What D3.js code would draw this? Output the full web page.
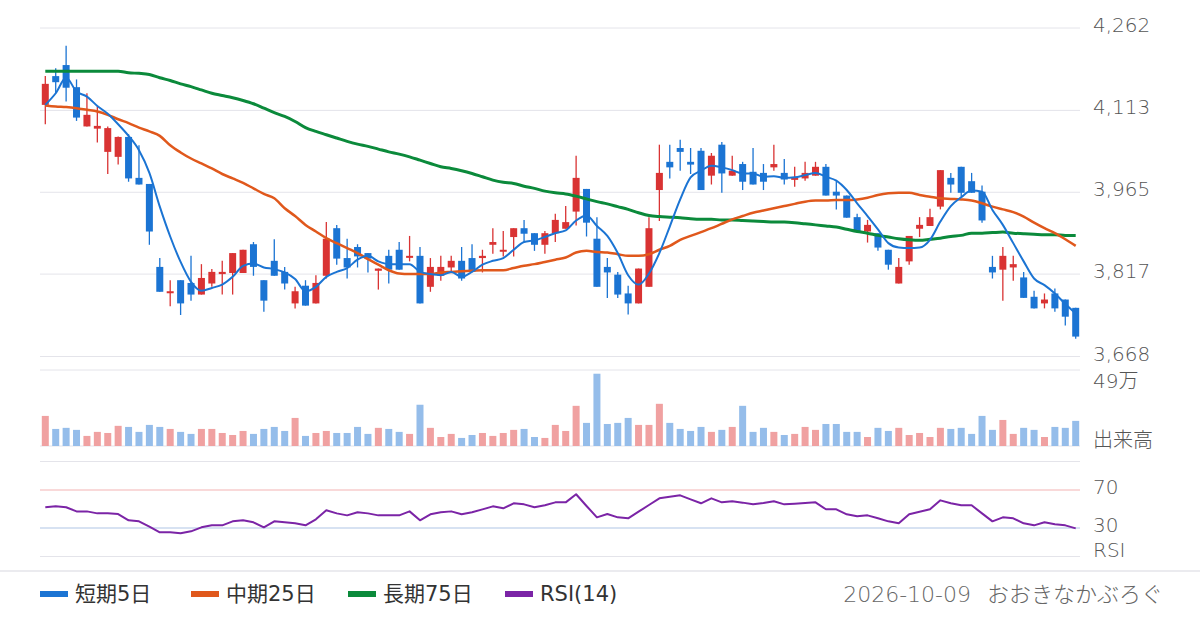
<!DOCTYPE html>
<html>
<head>
<meta charset="utf-8">
<script src="https://cdn.jsdelivr.net/npm/d3@7"></script>
<style>
  body { margin: 0; background: #fff; }
  svg { display: block; font-family: "DejaVu Sans", "Noto Sans CJK JP", sans-serif; font-weight: 300; }
</style>
</head>
<body>
<svg id="chart" width="1200" height="630"></svg>
<script>
// daily candles, oldest first (yen)
const opens = [4123,4175,4195,4155,4084,4080,4038,4029,4065,3991,3980,3830,3783,3806,3801,3780,3800,3817,3819,3819,
  3871,3806,3841,3821,3764,3796,3764,3814,3900,3846,3866,3855,3823,3850,3861,3847,3850,3794,3814,3829,
  3841,3846,3846,3870,3858,3884,3900,3891,3870,3891,3899,3930,3971,3881,3830,3816,3782,3764,3794,3969,
  4020,4045,4020,4040,3995,4051,3995,4016,4002,4000,4010,4000,3988,3990,3995,4011,3966,3959,3920,3894,
  3891,3861,3800,3840,3899,3904,3939,3991,4011,3985,3966,3830,3825,3829,3811,3776,3764,3782,3771,3756];
const highs = [4175,4189,4230,4169,4144,4120,4084,4066,4070,4050,3980,3846,3806,3806,3850,3835,3826,3841,3855,3861,
  3875,3806,3880,3830,3794,3806,3815,3911,3906,3881,3871,3855,3827,3861,3875,3886,3866,3846,3850,3850,
  3866,3871,3861,3900,3895,3900,3915,3891,3895,3926,3940,4031,3971,3920,3846,3821,3796,3827,3920,4051,
  4051,4060,4045,4045,4036,4056,4031,4020,4045,4016,4051,4025,4011,4020,4020,4016,3985,3959,3926,3915,
  3891,3861,3846,3886,3920,3935,4005,4000,4011,4000,3977,3850,3866,3850,3821,3787,3782,3791,3771,3756];
const lows = [4088,4144,4129,4094,4084,4055,3998,4015,3984,3979,3870,3785,3759,3743,3769,3780,3794,3780,3780,3819,
  3814,3749,3814,3789,3755,3760,3764,3809,3834,3809,3829,3820,3789,3800,3825,3840,3764,3785,3805,3821,
  3805,3821,3820,3854,3849,3849,3875,3859,3854,3875,3899,3905,3885,3794,3774,3774,3744,3764,3794,3913,
  3990,4004,3998,3969,3979,3964,3995,3969,3979,3969,4004,3979,3975,3986,3995,3959,3934,3919,3894,3874,
  3859,3825,3800,3834,3884,3904,3934,3964,3957,3964,3910,3809,3769,3805,3774,3755,3755,3749,3724,3700];
const closes = [4161,4164,4154,4100,4105,4085,4081,4065,3990,3979,3894,3785,3786,3764,3780,3810,3821,3821,3855,3861,
  3830,3769,3814,3800,3786,3760,3801,3881,3845,3829,3849,3845,3827,3825,3825,3850,3764,3830,3830,3841,
  3809,3821,3850,3875,3861,3900,3890,3870,3891,3915,3911,3991,3910,3794,3820,3780,3764,3827,3900,4000,
  4010,4038,4015,3969,4031,3999,4004,3984,3979,3984,4016,3988,3991,4000,4011,3959,3959,3919,3894,3906,
  3865,3834,3830,3886,3906,3920,4005,3979,3964,3964,3914,3820,3850,3835,3774,3755,3771,3755,3740,3704];

// volume in 万株
const volumes = [19.4,11.0,11.7,10.4,6.5,9.1,8.4,13.0,12.3,9.1,13.6,12.3,11.0,9.1,7.8,11.0,11.0,8.4,7.1,9.7,
  7.8,11.0,12.3,9.7,18.1,6.5,8.4,9.7,8.4,8.4,12.3,7.8,11.7,11.0,9.1,7.8,26.6,11.7,5.8,7.8,
  5.2,7.1,8.4,6.5,8.4,10.4,11.0,5.8,5.2,13.6,9.7,25.9,14.9,46.6,14.2,14.9,18.1,13.6,13.6,27.2,
  14.9,11.0,9.7,12.3,9.1,10.4,12.3,25.9,9.1,11.7,9.1,7.1,7.8,12.3,10.4,14.2,14.2,9.1,9.1,5.8,
  11.7,9.7,11.7,7.1,8.4,5.8,11.7,11.0,11.7,7.8,19.4,10.4,16.8,7.8,11.7,10.4,5.8,12.3,11.7,16.2];

// moving averages as drawn
const ma5 = [4123,4144,4172,4147,4138,4121,4107,4088,4067,4041,4000,3939,3885,3839,3803,3787,3792,3798,3812,3832,
  3836,3829,3826,3820,3808,3786,3794,3812,3821,3828,3843,3850,3840,3835,3835,3835,3821,3817,3815,3821,
  3812,3821,3834,3841,3846,3861,3875,3878,3884,3891,3896,3914,3923,3904,3886,3855,3815,3798,3818,3855,
  3903,3952,3992,4004,4013,4010,4005,3999,3999,3993,3994,3991,3992,3996,4000,3993,3986,3969,3945,3922,
  3898,3873,3865,3864,3865,3879,3912,3940,3956,3968,3966,3933,3906,3873,3840,3809,3797,3782,3763,3746];
const ma25 = [4122,4120,4119,4117,4114,4111,4105,4097,4090,4082,4075,4067,4050,4037,4026,4017,4008,3998,3990,3982,
  3972,3962,3954,3936,3922,3906,3894,3882,3873,3864,3855,3844,3834,3824,3818,3817,3817,3817,3820,3821,
  3822,3823,3824,3824,3824,3828,3832,3835,3839,3843,3847,3856,3859,3857,3856,3853,3850,3850,3853,3861,
  3868,3879,3886,3893,3900,3908,3916,3922,3928,3932,3936,3940,3944,3948,3950,3950,3951,3951,3952,3955,
  3960,3963,3964,3964,3960,3957,3954,3953,3952,3950,3945,3939,3934,3929,3921,3910,3900,3891,3880,3868];
const ma75 = [4184,4184,4184,4184,4184,4184,4184,4184,4181,4180,4178,4172,4167,4161,4156,4150,4144,4140,4136,4131,
  4125,4117,4109,4102,4093,4082,4075,4069,4063,4057,4052,4048,4043,4038,4034,4029,4023,4017,4011,4008,
  4004,3999,3993,3987,3983,3981,3976,3972,3967,3964,3962,3958,3953,3948,3944,3939,3934,3928,3923,3921,
  3920,3919,3917,3916,3916,3915,3915,3914,3913,3912,3911,3911,3910,3908,3906,3904,3902,3898,3894,3891,
  3887,3884,3881,3879,3878,3880,3882,3885,3887,3891,3891,3892,3893,3891,3890,3889,3888,3888,3887,3887];

// RSI(14)
const rsi = [51.8,52.8,51.8,47.5,47.5,45.4,45.4,44.7,38.1,37.0,31.4,25.4,25.4,24.4,26.5,30.7,32.8,32.8,37.0,38.1,
  36.0,30.7,37.0,36.0,34.9,32.8,39.1,48.6,45.4,43.3,46.5,45.4,43.3,43.3,43.3,47.5,38.1,44.4,46.5,47.5,
  44.4,46.5,49.6,52.8,50.7,56.0,54.9,51.8,53.9,57.0,57.0,65.5,53.2,41.2,44.7,41.2,40.2,47.2,54.2,61.2,
  63.0,64.4,60.2,56.0,61.2,57.0,58.1,56.7,54.9,56.3,58.1,54.9,55.6,56.3,57.0,49.7,49.7,44.4,42.3,43.3,
  40.2,37.0,34.9,44.4,47.2,49.7,59.1,56.0,53.9,53.9,45.4,37.0,41.2,40.2,34.9,32.8,36.0,33.9,32.8,29.6];

const priceTicks = [4262, 4113, 3965, 3817, 3668];
const volumeMax = 49;
const rsiLevels = [70, 30];
const legendNames = ['短期5日', '中期25日', '長期75日', 'RSI(14)'];
const footerText = '2026-10-09 おおきなかぶろぐ';

const upColor = '#d93333', downColor = '#1b74d3';
const upVol = '#f0a1a1', downVol = '#95bdea';
const lineColors = ['#1b74d3', '#e0581c', '#0b8a3b', '#7b24a6'];
const gridColor = '#e4e4ea';

const svg = d3.select('#chart');
const idx = d3.range(closes.length);

const x = d3.scalePoint().domain(idx).range([45.3, 1075.7]);
const y = d3.scaleLinear().domain([3668, 4262]).range([356.5, 28]);
const yVol = d3.scaleLinear().domain([0, volumeMax]).range([446, 370]);
const yRsi = d3.scaleLinear().domain([0, 100]).range([556.5, 461.5]);

const left = 40, right = 1080;

// grid
const grid = svg.append('g');
const hline = (sel, scale) => sel
  .attr('x1', left).attr('x2', right)
  .attr('y1', d => scale(d)).attr('y2', d => scale(d))
  .attr('stroke', gridColor).attr('stroke-width', 1);
grid.selectAll('line.p').data(priceTicks).join('line').call(hline, y);
grid.selectAll('line.v').data([0, volumeMax]).join('line').call(hline, yVol);
grid.selectAll('line.r').data([100, 0]).join('line').call(hline, yRsi);
grid.selectAll('line.lv').data(rsiLevels).join('line').call(hline, yRsi)
  .attr('stroke', d => d === 70 ? '#f3b3b3' : '#afc6e6').attr('stroke-width', 1.2);

// footer separator
svg.append('line').attr('x1', 0).attr('x2', 1200).attr('y1', 571).attr('y2', 571)
  .attr('stroke', gridColor).attr('stroke-width', 1.5);

// volume
const isUp = i => closes[i] >= opens[i];
svg.append('g').selectAll('rect').data(idx).join('rect')
  .attr('x', i => x(i) - 3.5)
  .attr('width', 7)
  .attr('y', i => yVol(volumes[i]))
  .attr('height', i => yVol(0) - yVol(volumes[i]))
  .attr('fill', i => isUp(i) ? upVol : downVol);

// candles
const candles = svg.append('g');
candles.selectAll('line').data(idx).join('line')
  .attr('x1', i => x(i)).attr('x2', i => x(i))
  .attr('y1', i => y(highs[i])).attr('y2', i => y(lows[i]))
  .attr('stroke', i => isUp(i) ? upColor : downColor)
  .attr('stroke-width', 1.3);
candles.selectAll('rect').data(idx).join('rect')
  .attr('x', i => x(i) - 3.5)
  .attr('width', 7)
  .attr('y', i => y(Math.max(opens[i], closes[i])))
  .attr('height', i => Math.max(2, Math.abs(y(opens[i]) - y(closes[i]))))
  .attr('fill', i => isUp(i) ? upColor : downColor);

// moving averages
const priceLine = d3.line().x((d, i) => x(i)).y(d => y(d)).curve(d3.curveMonotoneX);
[[ma75, lineColors[2], 3], [ma25, lineColors[1], 2.5], [ma5, lineColors[0], 2]].forEach(([arr, c, w]) => {
  svg.append('path').attr('d', priceLine(arr))
    .attr('fill', 'none').attr('stroke', c).attr('stroke-width', w)
    .attr('stroke-linejoin', 'round');
});

// RSI
svg.append('path')
  .attr('d', d3.line().x((d, i) => x(i)).y(d => yRsi(d))(rsi))
  .attr('fill', 'none').attr('stroke', lineColors[3]).attr('stroke-width', 2)
  .attr('stroke-linejoin', 'round');

// axis labels
const labels = svg.append('g').attr('fill', '#555').attr('font-size', 20)
  .attr('dominant-baseline', 'central');
labels.selectAll('text.p').data(priceTicks).join('text')
  .attr('x', 1093).attr('y', d => y(d) - 3)
  .text(d => d3.format(',')(d));
labels.append('text').attr('x', 1093).attr('y', yVol(volumeMax) + 11).text(volumeMax + '万');
labels.append('text').attr('x', 1093).attr('y', yVol(0) - 6).text('出来高');
labels.selectAll('text.r').data(rsiLevels).join('text')
  .attr('x', 1093).attr('y', d => yRsi(d) - 3).text(d => d);
labels.append('text').attr('x', 1093).attr('y', yRsi(0) - 7).text('RSI');

// legend
const legendX = [40, 191, 348, 505];
const legend = svg.append('g');
legendNames.forEach((name, i) => {
  legend.append('rect').attr('x', legendX[i]).attr('y', 591).attr('width', 28).attr('height', 6)
    .attr('fill', lineColors[i]);
  legend.append('text').attr('x', legendX[i] + 35).attr('y', 594)
    .attr('dominant-baseline', 'central').attr('font-size', 21).attr('font-weight', 400)
    .attr('fill', '#333')
    .text(name);
});
svg.append('text').attr('x', 1163).attr('y', 594).attr('text-anchor', 'end')
  .attr('dominant-baseline', 'central').attr('font-size', 22).attr('fill', '#666')
  .attr('word-spacing', 9)
  .text(footerText);
</script>
</body>
</html>
